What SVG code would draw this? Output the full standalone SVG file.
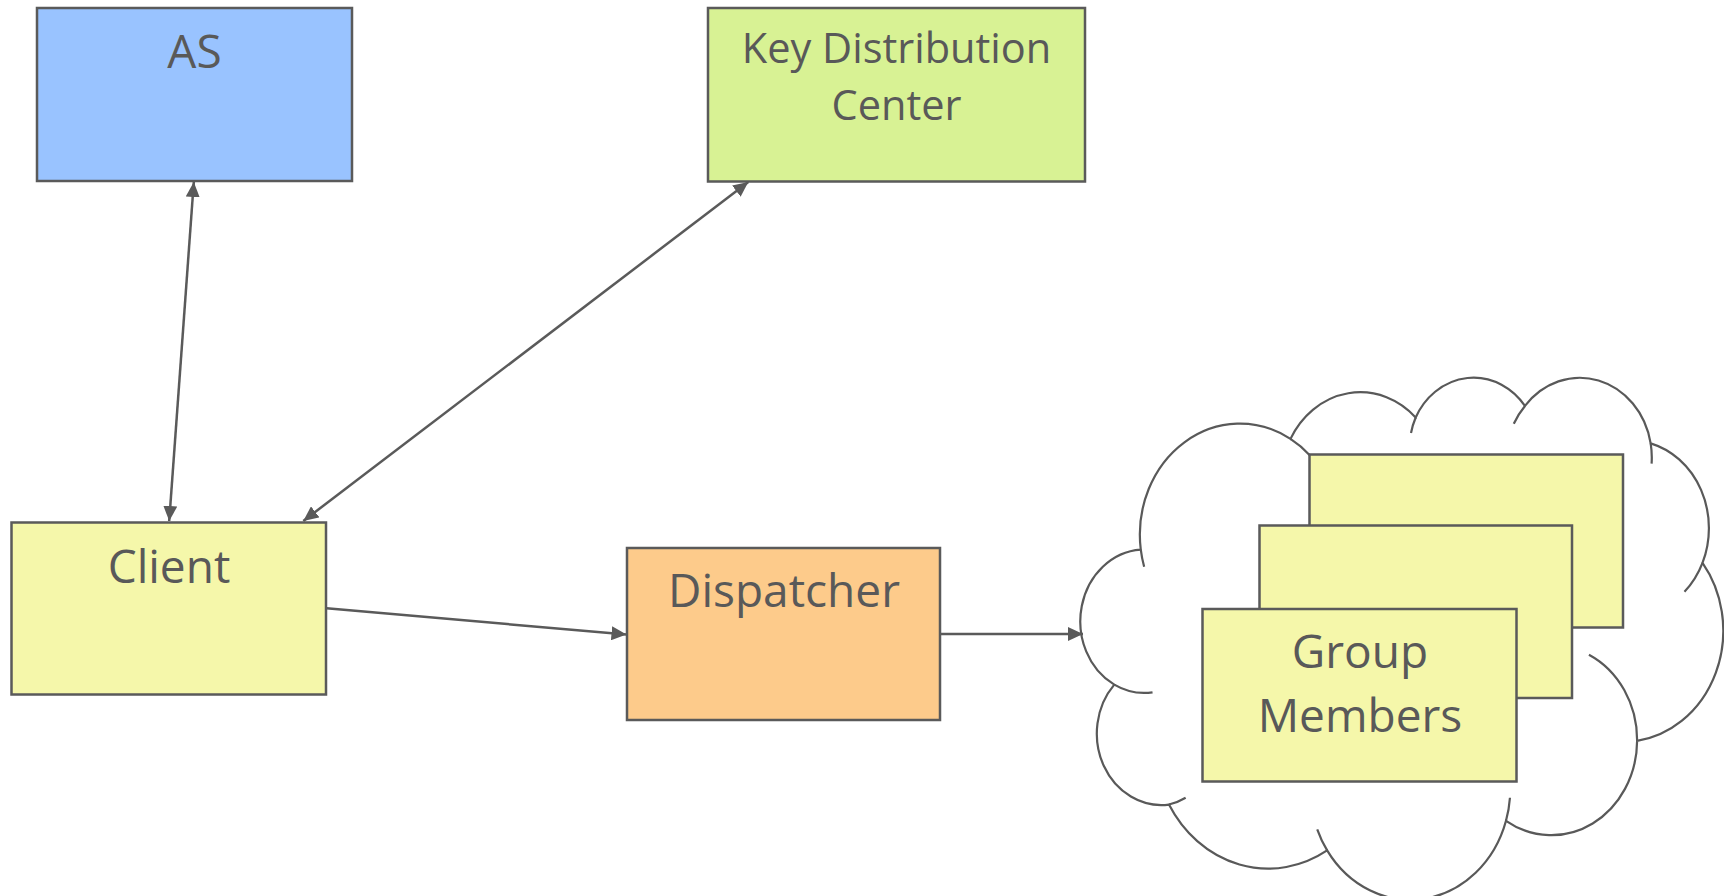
<svg xmlns="http://www.w3.org/2000/svg" width="1724" height="896" viewBox="0 0 1724 896">
  <style>
    .box { stroke: #5a5a5a; stroke-width: 2.5; }
    .label { font-family: "Open Sans", "Noto Sans", "DejaVu Sans", sans-serif; fill: #595959; text-anchor: middle; }
    .big { font-size: 46px; }
    .mid { font-size: 41.5px; }
    .wire { fill: none; stroke: #5a5a5a; stroke-width: 2.5; }
    .cloud { fill: #ffffff; stroke: #595959; stroke-width: 2.2; }
    .tick { fill: none; stroke: #595959; stroke-width: 2.2; }
  </style>
  <defs>
    <marker id="head" viewBox="0 0 15 14" refX="15" refY="7" markerWidth="15" markerHeight="14" markerUnits="userSpaceOnUse" orient="auto-start-reverse">
      <path d="M0,0 L15,7 L0,14 z" fill="#5a5a5a"/>
    </marker>
  </defs>

  <rect width="1724" height="896" fill="#ffffff"/>

  <!-- cloud enclosing the group members -->
  <g id="cloud">
    <path class="cloud" d="M 1140.78 549.64
      A 100.04 111.05 0 0 1 1290.48 438.85
      A 79.01 87.81 0 0 1 1415.69 417.46
      A 64.67 71.83 0 0 1 1524.96 405.94
      A 71.96 79.69 0 0 1 1650.66 443.35
      A 79.01 87.88 0 0 1 1702.52 562.78
      A 100.37 111.41 0 0 1 1637.11 740.91
      A 85.70 95.06 0 0 1 1506.01 820.78
      A 100.03 111.35 0 0 1 1327.13 850.41
      A 114.37 127.39 0 0 1 1168.96 804.54
      A 64.59 71.51 0 0 1 1114.27 684.65
      A 64.37 71.83 0 0 1 1140.78 549.64 Z"/>
    <path class="tick" d="M 1152.53 692.31 A 64.37 71.83 0 0 1 1114.27 684.65
      M 1185.64 797.70 A 64.59 71.51 0 0 1 1168.96 804.54
      M 1327.13 850.41 A 100.03 111.35 0 0 1 1317.23 829.37
      M 1509.96 797.71 A 100.03 111.35 0 0 1 1506.01 820.78
      M 1588.94 654.69 A 85.70 95.06 0 0 1 1637.11 740.91
      M 1702.52 562.78 A 79.01 87.88 0 0 1 1684.47 591.70
      M 1650.66 443.35 A 71.96 79.69 0 0 1 1651.59 463.58
      M 1513.79 423.75 A 71.96 79.69 0 0 1 1524.96 405.94
      M 1411.01 433.03 A 64.67 71.83 0 0 1 1415.69 417.46
      M 1290.48 438.85 A 100.04 111.05 0 0 1 1309.74 455.14
      M 1144.14 566.77 A 100.04 111.05 0 0 1 1140.78 549.64"/>
  </g>

  <g id="as">
    <rect class="box" x="37" y="8" width="315" height="173" fill="#99c3ff"/>
    <text class="label big" x="194.5" y="68">AS</text>
  </g>

  <g id="kdc">
    <rect class="box" x="708" y="8" width="377" height="173.5" fill="#d8f294"/>
    <text class="label mid" x="896.5" y="63">Key Distribution</text>
    <text class="label mid" x="896.5" y="120">Center</text>
  </g>

  <g id="client">
    <rect class="box" x="11.5" y="522.5" width="314.5" height="172" fill="#f5f7aa"/>
    <text class="label big" x="169" y="583">Client</text>
  </g>

  <g id="dispatcher">
    <rect class="box" x="627" y="548" width="313" height="172" fill="#fdcb8b"/>
    <text class="label big" x="784" y="607">Dispatcher</text>
  </g>

  <g id="group-members">
    <rect class="box" x="1309.5" y="454.5" width="313.5" height="173" fill="#f5f7aa"/>
    <rect class="box" x="1259.5" y="525.5" width="312.5" height="172.5" fill="#f5f7aa"/>
    <rect class="box" x="1202.5" y="609" width="314" height="172.5" fill="#f5f7aa"/>
    <text class="label big" x="1360" y="668">Group</text>
    <text class="label big" x="1360" y="732">Members</text>
  </g>

  <g id="connectors">
    <line class="wire" x1="193.8" y1="182" x2="169.2" y2="521" marker-start="url(#head)" marker-end="url(#head)"/>
    <line class="wire" x1="748.3" y1="182" x2="303.3" y2="521" marker-start="url(#head)" marker-end="url(#head)"/>
    <line class="wire" x1="326.5" y1="608.3" x2="626.5" y2="634.5" marker-end="url(#head)"/>
    <line class="wire" x1="940" y1="634" x2="1083" y2="634" marker-end="url(#head)"/>
  </g>
</svg>
